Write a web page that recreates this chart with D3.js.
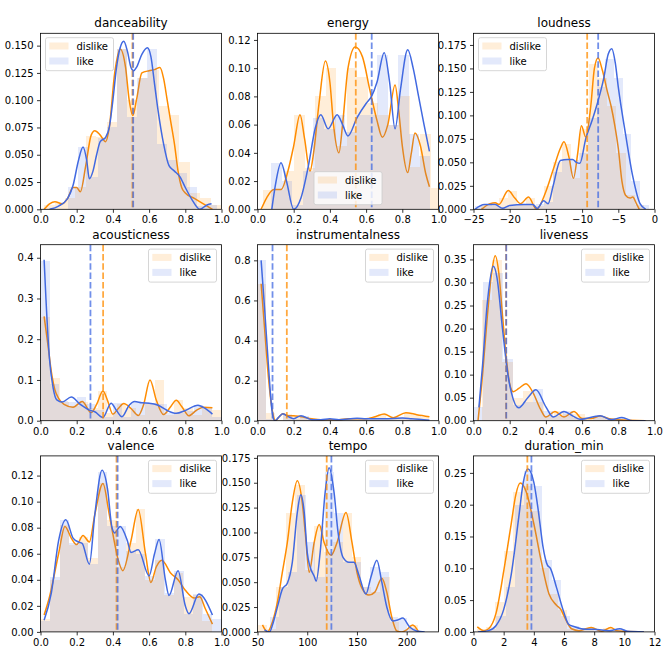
<!DOCTYPE html>
<html><head><meta charset="utf-8">
<script src="https://cdn.jsdelivr.net/npm/d3@7"></script>
<style>body{margin:0;background:#fff} svg{display:block} text{font-family:"DejaVu Sans",sans-serif}</style>
</head><body><svg id="c" width="665" height="665"></svg>
<script>
// ---------- titles ----------
const titles = ["danceability","energy","loudness","acousticness","instrumentalness","liveness","valence","tempo","duration_min"];
const seriesNames = ["dislike","like"];

// ---------- danceability ----------
const danceDislikeKde = [[0.02,0.0],[0.05,0.005],[0.08,0.007],[0.12,0.005],[0.15,0.01],[0.18,0.02],[0.2,0.02],[0.22,0.016],[0.25,0.04],[0.28,0.068],[0.3,0.072],[0.33,0.068],[0.36,0.062],[0.38,0.075],[0.41,0.125],[0.44,0.147],[0.47,0.13],[0.49,0.1],[0.51,0.086],[0.53,0.1],[0.56,0.125],[0.6,0.127],[0.63,0.128],[0.66,0.13],[0.68,0.12],[0.7,0.1],[0.72,0.08],[0.74,0.06],[0.76,0.035],[0.78,0.02],[0.8,0.015],[0.85,0.01],[0.9,0.005],[0.95,0.0]];
const danceLikeKde = [[0.05,0.0],[0.1,0.003],[0.15,0.01],[0.18,0.022],[0.21,0.045],[0.235,0.057],[0.255,0.045],[0.27,0.028],[0.29,0.035],[0.31,0.05],[0.33,0.062],[0.36,0.066],[0.38,0.075],[0.4,0.1],[0.42,0.13],[0.44,0.148],[0.46,0.154],[0.48,0.145],[0.5,0.13],[0.515,0.127],[0.53,0.13],[0.56,0.142],[0.59,0.148],[0.61,0.14],[0.63,0.115],[0.65,0.09],[0.68,0.06],[0.71,0.04],[0.74,0.035],[0.77,0.03],[0.8,0.02],[0.84,0.008],[0.88,0.0],[0.92,0.004],[0.945,0.005]];
const danceDislikeBins = [0.02,0.0575];
const danceDislikeHist = [0.004,0.006,0.01,0.02,0.067,0.066,0.08,0.147,0.1,0.12,0.128,0.095,0.086,0.043,0.015,0.01,0.004];
const danceLikeBins = [0.15,0.055];
const danceLikeHist = [0.02,0.057,0.03,0.065,0.075,0.147,0.085,0.12,0.147,0.06,0.045,0.033,0.02,0.003,0.004];
const danceMeans = [0.508,0.512];

// ---------- energy ----------
const energyDislikeKde = [[0.02,0.0],[0.05,0.008],[0.09,0.014],[0.13,0.014],[0.17,0.028],[0.2,0.045],[0.235,0.067],[0.26,0.05],[0.29,0.027],[0.31,0.04],[0.34,0.075],[0.375,0.105],[0.4,0.09],[0.42,0.06],[0.45,0.04],[0.47,0.06],[0.5,0.1],[0.54,0.115],[0.58,0.108],[0.62,0.085],[0.66,0.063],[0.69,0.051],[0.72,0.06],[0.76,0.088],[0.78,0.07],[0.8,0.045],[0.83,0.026],[0.85,0.04],[0.87,0.054],[0.9,0.045],[0.93,0.025],[0.95,0.016]];
const energyLikeKde = [[0.079,0.0],[0.1,0.018],[0.13,0.033],[0.16,0.02],[0.2,0.0],[0.24,0.008],[0.28,0.03],[0.32,0.058],[0.35,0.067],[0.39,0.057],[0.44,0.067],[0.47,0.06],[0.5,0.052],[0.55,0.065],[0.6,0.075],[0.63,0.08],[0.66,0.09],[0.7,0.111],[0.73,0.09],[0.76,0.057],[0.79,0.085],[0.83,0.113],[0.86,0.1],[0.89,0.08],[0.92,0.06],[0.95,0.041]];
const energyDislikeBins = [0.028,0.058];
const energyDislikeHist = [0.014,0.014,0.027,0.067,0.029,0.08,0.1,0.045,0.1,0.094,0.075,0.067,0.06,0.08,0.03,0.053,0.015];
const energyLikeBins = [0.075,0.0585];
const energyLikeHist = [0.033,0.02,0.003,0.027,0.065,0.057,0.067,0.055,0.067,0.067,0.109,0.06,0.109,0.053,0.038];
const energyMeans = [0.543,0.631];

// ---------- loudness ----------
const loudDislikeKde = [[-23.9,0.0],[-22.7,0.006],[-22,0.007],[-21.5,0.005],[-20.2,0.02],[-19.3,0.012],[-18.5,0.006],[-17.4,0.013],[-16.3,0.0],[-15,0.019],[-14,0.042],[-13,0.065],[-12.5,0.072],[-11.8,0.055],[-11.2,0.033],[-10.6,0.06],[-10.1,0.089],[-9.5,0.077],[-8.8,0.11],[-8.3,0.15],[-7.8,0.161],[-7.2,0.148],[-6.5,0.125],[-6,0.11],[-5.5,0.09],[-5,0.065],[-4.5,0.03],[-4,0.015],[-3.4,0.012],[-3,0.013],[-2.5,0.006],[-2.1,0.0]];
const loudLikeKde = [[-24.8,0.0],[-23.5,0.005],[-22,0.005],[-21,0.001],[-20,0.004],[-18,0.005],[-16.8,0.005],[-16.2,0.001],[-15.3,0.009],[-14.7,0.006],[-14,0.025],[-13,0.052],[-12,0.053],[-11.3,0.053],[-10.8,0.05],[-10.3,0.049],[-9.5,0.075],[-8.6,0.095],[-8,0.11],[-7,0.14],[-6.4,0.165],[-5.9,0.171],[-5.4,0.155],[-5,0.13],[-4,0.08],[-3,0.035],[-2,0.006],[-1.2,0.0]];
const loudDislikeBins = [-24,1.25];
const loudDislikeHist = [0.005,0.007,0.012,0.02,0.006,0.012,0.003,0.025,0.05,0.07,0.033,0.085,0.155,0.14,0.11,0.06,0.015,0.005];
const loudLikeBins = [-24.8,1.2];
const loudLikeHist = [0.004,0.005,0.003,0.002,0.005,0.005,0.005,0.006,0.008,0.04,0.053,0.053,0.06,0.097,0.13,0.16,0.14,0.08,0.03,0.005];
const loudMeans = [-9.3,-7.78];

// ---------- acousticness ----------
const acoustDislikeKde = [[0.02,0.256],[0.04,0.19],[0.06,0.12],[0.08,0.075],[0.1,0.055],[0.13,0.04],[0.18,0.033],[0.23,0.047],[0.28,0.02],[0.31,0.04],[0.345,0.073],[0.37,0.05],[0.4,0.016],[0.43,0.03],[0.46,0.042],[0.5,0.03],[0.54,0.013],[0.57,0.04],[0.605,0.1],[0.64,0.05],[0.68,0.015],[0.72,0.035],[0.75,0.05],[0.78,0.035],[0.82,0.012],[0.86,0.025],[0.9,0.033],[0.95,0.032]];
const acoustLikeKde = [[0.02,0.395],[0.03,0.3],[0.05,0.15],[0.07,0.08],[0.09,0.051],[0.12,0.046],[0.17,0.058],[0.22,0.04],[0.27,0.026],[0.3,0.022],[0.345,0.008],[0.39,0.043],[0.42,0.025],[0.45,0.01],[0.49,0.038],[0.52,0.047],[0.56,0.044],[0.6,0.043],[0.65,0.038],[0.7,0.025],[0.75,0.018],[0.8,0.025],[0.87,0.038],[0.91,0.03],[0.95,0.016]];
const acoustDislikeBins = [0.0,0.0525];
const acoustDislikeHist = [0.255,0.106,0.045,0.035,0.045,0.03,0.072,0.02,0.042,0.03,0.013,0.04,0.1,0.015,0.05,0.03,0.013,0.03,0.027];
const acoustLikeBins = [0.0,0.05];
const acoustLikeHist = [0.393,0.09,0.048,0.045,0.058,0.04,0.026,0.008,0.043,0.01,0.046,0.046,0.043,0.04,0.02,0.018,0.025,0.038,0.03,0.01];
const acoustMeans = [0.346,0.276];

// ---------- instrumentalness ----------
const instrDislikeKde = [[0.02,0.683],[0.04,0.45],[0.06,0.22],[0.08,0.06],[0.1,0.0],[0.12,0.02],[0.14,0.035],[0.17,0.025],[0.2,0.025],[0.24,0.02],[0.3,0.01],[0.35,0.005],[0.45,0.005],[0.5,0.01],[0.6,0.01],[0.65,0.02],[0.7,0.033],[0.75,0.015],[0.82,0.04],[0.88,0.03],[0.95,0.02]];
const instrLikeKde = [[0.02,0.8],[0.04,0.55],[0.06,0.28],[0.08,0.05],[0.095,0.0],[0.115,0.015],[0.14,0.035],[0.17,0.02],[0.2,0.01],[0.24,0.025],[0.3,0.005],[0.35,0.005],[0.4,0.01],[0.45,0.005],[0.55,0.012],[0.6,0.01],[0.7,0.01],[0.8,0.013],[0.85,0.01],[0.95,0.002]];
const instrDislikeBins = [0.0,0.0475];
const instrDislikeHist = [0.68,0.04,0.005,0.035,0.025,0.02,0.01,0.005,0.005,0.005,0.01,0.01,0.01,0.02,0.033,0.015,0.02,0.04,0.03,0.02];
const instrLikeBins = [0.0,0.0475];
const instrLikeHist = [0.8,0.01,0.0,0.03,0.01,0.025,0.005,0.005,0.01,0.005,0.01,0.012,0.01,0.01,0.01,0.01,0.013,0.01,0.005,0.002];
const instrMeans = [0.162,0.083];

// ---------- liveness ----------
const liveDislikeKde = [[0.025,0.0],[0.05,0.1],[0.075,0.22],[0.1,0.32],[0.12,0.358],[0.14,0.32],[0.16,0.23],[0.18,0.14],[0.2,0.08],[0.22,0.063],[0.25,0.07],[0.29,0.08],[0.33,0.06],[0.37,0.025],[0.4,0.008],[0.45,0.02],[0.5,0.008],[0.555,0.02],[0.6,0.005],[0.65,0.005],[0.7,0.01],[0.75,0.004],[0.8,0.002],[0.95,0.0]];
const liveLikeKde = [[0.03,0.029],[0.05,0.12],[0.075,0.25],[0.11,0.335],[0.13,0.31],[0.16,0.2],[0.19,0.1],[0.21,0.06],[0.25,0.028],[0.3,0.05],[0.345,0.067],[0.4,0.03],[0.44,0.008],[0.5,0.02],[0.55,0.01],[0.59,0.003],[0.7,0.011],[0.76,0.002],[0.82,0.007],[0.88,0.0],[0.95,0.0]];
const liveDislikeBins = [0.045,0.057];
const liveDislikeHist = [0.263,0.348,0.127,0.05,0.065,0.04,0.01,0.02,0.015,0.015,0.005,0.01,0.005,0.003,0.001,0.001];
const liveLikeBins = [0.0,0.055];
const liveLikeHist = [0.03,0.3,0.32,0.134,0.035,0.04,0.068,0.02,0.01,0.02,0.005,0.002,0.01,0.005,0.005,0.002,0.0];
const liveMeans = [0.18,0.181];

// ---------- valence ----------
const valDislikeKde = [[0.02,0.013],[0.05,0.027],[0.1,0.06],[0.135,0.081],[0.17,0.072],[0.2,0.067],[0.235,0.074],[0.27,0.069],[0.3,0.09],[0.345,0.114],[0.38,0.09],[0.4,0.075],[0.43,0.055],[0.455,0.047],[0.5,0.07],[0.54,0.094],[0.58,0.06],[0.61,0.038],[0.64,0.05],[0.67,0.055],[0.72,0.045],[0.76,0.04],[0.8,0.032],[0.85,0.026],[0.88,0.027],[0.91,0.018],[0.95,0.006]];
const valLikeKde = [[0.02,0.009],[0.06,0.03],[0.1,0.07],[0.14,0.086],[0.18,0.072],[0.21,0.069],[0.23,0.068],[0.27,0.052],[0.3,0.09],[0.34,0.124],[0.37,0.11],[0.395,0.08],[0.41,0.076],[0.44,0.081],[0.48,0.07],[0.5,0.061],[0.54,0.063],[0.6,0.043],[0.63,0.06],[0.655,0.071],[0.69,0.04],[0.71,0.028],[0.76,0.047],[0.8,0.02],[0.82,0.014],[0.875,0.029],[0.95,0.013]];
const valDislikeBins = [0.0,0.0525];
const valDislikeHist = [0.01,0.04,0.082,0.067,0.073,0.057,0.114,0.086,0.05,0.068,0.094,0.04,0.055,0.028,0.045,0.027,0.028,0.008];
const valLikeBins = [0.0,0.0527];
const valLikeHist = [0.008,0.042,0.086,0.068,0.068,0.052,0.123,0.081,0.081,0.062,0.06,0.043,0.071,0.03,0.047,0.014,0.029,0.014,0.01];
const valMeans = [0.42,0.426];

// ---------- tempo ----------
const tempoDislikeKde = [[55,0.007],[60,0.0],[65,0.01],[70,0.03],[75,0.06],[80,0.09],[85,0.13],[90,0.152],[95,0.13],[98,0.1],[102,0.06],[107,0.09],[112,0.108],[117,0.09],[124,0.077],[130,0.09],[139,0.12],[145,0.09],[150,0.06],[155,0.044],[162,0.037],[168,0.04],[175,0.054],[180,0.04],[185,0.015],[190,0.001],[195,0.0],[200,0.002],[206,0.007],[212,0.0]];
const tempoLikeKde = [[57,0.002],[62,0.0],[66,0.01],[70,0.025],[75,0.043],[80,0.049],[85,0.07],[90,0.12],[93.5,0.138],[97,0.12],[100,0.08],[103,0.065],[107,0.056],[109,0.051],[113,0.08],[118,0.14],[122,0.165],[127,0.14],[131,0.1],[136,0.075],[142,0.07],[147,0.07],[152,0.057],[159,0.038],[164,0.055],[170,0.072],[175,0.05],[180,0.025],[186,0.011],[191,0.012],[196,0.014],[203,0.005],[210,0.001],[218,0.0]];
const tempoDislikeBins = [50,9.5];
const tempoDislikeHist = [0.007,0.003,0.045,0.12,0.148,0.062,0.107,0.08,0.09,0.12,0.075,0.045,0.04,0.055,0.01,0.0,0.007];
const tempoLikeBins = [53,9.2];
const tempoLikeHist = [0.001,0.015,0.045,0.06,0.138,0.09,0.055,0.161,0.12,0.07,0.07,0.045,0.065,0.06,0.015,0.014,0.004,0.001];
const tempoMeans = [119.6,124.3];

// ---------- duration_min ----------
const durDislikeKde = [[0.25,0.008],[0.7,0.002],[1,0.005],[1.5,0.03],[2,0.095],[2.5,0.17],[2.8,0.215],[3.1,0.234],[3.5,0.22],[4,0.17],[4.5,0.11],[5,0.06],[5.5,0.042],[5.8,0.035],[6,0.025],[6.5,0.005],[7,0.002],[7.8,0.007],[8.5,0.001],[9.1,0.007],[9.5,0.002],[10,0.001],[11.3,0.0]];
const durLikeKde = [[0.3,0.0],[1,0.002],[1.5,0.01],[2,0.035],[2.5,0.09],[3,0.18],[3.3,0.235],[3.6,0.256],[4,0.235],[4.3,0.19],[4.6,0.135],[4.9,0.105],[5.1,0.1],[5.5,0.07],[6,0.03],[6.3,0.012],[6.7,0.008],[7.5,0.004],[8,0.004],[9,0.002],[9.7,0.005],[10.2,0.001],[11.3,0.0]];
const durDislikeBins = [0.2,0.6];
const durDislikeHist = [0.004,0.008,0.047,0.127,0.22,0.23,0.19,0.1,0.06,0.035,0.004,0.003,0.006,0.002,0.006,0.002];
const durLikeBins = [0.3,0.61];
const durLikeHist = [0.0,0.005,0.025,0.07,0.2,0.253,0.229,0.113,0.081,0.025,0.01,0.005,0.004,0.002,0.002,0.005,0.001,0.001];
const durMeans = [3.57,3.84];

// ---------- axis domains & ticks ----------
const unitTicks = [0,0.2,0.4,0.6,0.8,1.0];
const xDomains = [[0,1],[0,1],[-25,0],[0,1],[0,1],[0,1],[0,1],[50,232],[0,12]];
const xTicks = [unitTicks,unitTicks,[-25,-20,-15,-10,-5,0],unitTicks,unitTicks,unitTicks,unitTicks,[50,100,150,200],[0,2,4,6,8,10,12]];
const yMax = [0.1613,0.1247,0.1874,0.432,0.878,0.382,0.1351,0.177,0.2767];
const yTicks = [
  [0,0.025,0.05,0.075,0.1,0.125,0.15],
  [0,0.02,0.04,0.06,0.08,0.1,0.12],
  [0,0.025,0.05,0.075,0.1,0.125,0.15,0.175],
  [0,0.1,0.2,0.3,0.4],
  [0,0.2,0.4,0.6,0.8],
  [0,0.05,0.1,0.15,0.2,0.25,0.3,0.35],
  [0,0.02,0.04,0.06,0.08,0.1,0.12],
  [0,0.025,0.05,0.075,0.1,0.125,0.15,0.175],
  [0,0.05,0.1,0.15,0.2,0.25]
];
const yDecimals = [3,2,3,1,1,2,2,3,2];
const legendLoc = ["ul","lc","ul","ur","ur","ur","ur","ur","ur"];

const kdes = [[danceDislikeKde,danceLikeKde],[energyDislikeKde,energyLikeKde],[loudDislikeKde,loudLikeKde],[acoustDislikeKde,acoustLikeKde],[instrDislikeKde,instrLikeKde],[liveDislikeKde,liveLikeKde],[valDislikeKde,valLikeKde],[tempoDislikeKde,tempoLikeKde],[durDislikeKde,durLikeKde]];
const hists = [[danceDislikeHist,danceLikeHist],[energyDislikeHist,energyLikeHist],[loudDislikeHist,loudLikeHist],[acoustDislikeHist,acoustLikeHist],[instrDislikeHist,instrLikeHist],[liveDislikeHist,liveLikeHist],[valDislikeHist,valLikeHist],[tempoDislikeHist,tempoLikeHist],[durDislikeHist,durLikeHist]];
const binsDef = [[danceDislikeBins,danceLikeBins],[energyDislikeBins,energyLikeBins],[loudDislikeBins,loudLikeBins],[acoustDislikeBins,acoustLikeBins],[instrDislikeBins,instrLikeBins],[liveDislikeBins,liveLikeBins],[valDislikeBins,valLikeBins],[tempoDislikeBins,tempoLikeBins],[durDislikeBins,durLikeBins]];
const means = [danceMeans,energyMeans,loudMeans,acoustMeans,instrMeans,liveMeans,valMeans,tempoMeans,durMeans];

// ---------- drawing ----------
const COLORS = ["#ff8c00","#4169e1"];
const BAR_OPACITY = 0.15;
const colLeft = [40.5,257.5,473.5], rowTop = [33.3,244.7,455.9], W = 181, H = 176;
const svg = d3.select("#c");
svg.append("rect").attr("width",665).attr("height",665).attr("fill","#fff");
const defs = svg.append("defs");

function xFmt(i){
  if (i===2) return d => d<0 ? "\u2212"+Math.abs(d) : String(d);
  if (i===7 || i===8) return d3.format("d");
  return d3.format(".1f");
}

titles.forEach((t,i)=>{
  const left = colLeft[i%3], top = rowTop[Math.floor(i/3)];
  const g = svg.append("g").attr("transform",`translate(${left},${top})`);
  const x = d3.scaleLinear().domain(xDomains[i]).range([0,W]);
  const y = d3.scaleLinear().domain([0,yMax[i]]).range([H,0]);
  defs.append("clipPath").attr("id","clip"+i).append("rect").attr("width",W).attr("height",H);
  const plot = g.append("g").attr("clip-path",`url(#clip${i})`);
  const line = d3.line().x(d=>x(d[0])).y(d=>y(d[1])).curve(d3.curveMonotoneX);

  [0,1].forEach(s=>{
    const [start,w] = binsDef[i][s];
    const bars = hists[i][s].map((h,k)=>({x0:start+k*w,x1:start+(k+1)*w,h}));
    plot.append("g").selectAll("rect").data(bars).join("rect")
      .attr("x",d=>x(d.x0)).attr("width",d=>Math.max(0,x(d.x1)-x(d.x0)))
      .attr("y",d=>y(d.h)).attr("height",d=>y(0)-y(d.h))
      .attr("fill",COLORS[s]).attr("fill-opacity",BAR_OPACITY).attr("shape-rendering","crispEdges");
    plot.append("path").datum(kdes[i][s]).attr("d",line)
      .attr("fill","none").attr("stroke",COLORS[s]).attr("stroke-width",1.5);
  });
  [0,1].forEach(s=>{
    plot.append("line").attr("x1",x(means[i][s])).attr("x2",x(means[i][s]))
      .attr("y1",0).attr("y2",H).attr("stroke",COLORS[s]).attr("stroke-width",1.8)
      .attr("stroke-dasharray","6.5,2.8").attr("stroke-opacity",0.75);
  });

  // axes
  const xa = g.append("g").attr("transform",`translate(0,${H})`)
    .call(d3.axisBottom(x).tickValues(xTicks[i]).tickFormat(xFmt(i)).tickSizeInner(3.5).tickSizeOuter(0).tickPadding(3.5));
  const ya = g.append("g")
    .call(d3.axisLeft(y).tickValues(yTicks[i]).tickFormat(d3.format("."+yDecimals[i]+"f")).tickSizeInner(3.5).tickSizeOuter(0).tickPadding(3.5));
  [xa,ya].forEach(a=>{
    a.select(".domain").remove();
    a.selectAll("line").attr("stroke","#000").attr("stroke-width",0.8);
    a.selectAll("text").attr("font-size",10).attr("fill","#000").attr("font-family","DejaVu Sans, sans-serif");
  });
  g.append("rect").attr("width",W).attr("height",H).attr("fill","none").attr("stroke","#000").attr("stroke-width",0.8);

  g.append("text").attr("x",W/2).attr("y",-6).attr("text-anchor","middle")
    .attr("font-size",12).attr("fill","#000").text(t);

  // legend
  const LW = 68, LH = 33;
  let lx, ly;
  if (legendLoc[i]==="ul"){ lx = 5; ly = 4.4; }
  else if (legendLoc[i]==="ur"){ lx = W-5-LW; ly = 4.4; }
  else { lx = (W-LW)/2; ly = H-4.6-LH; }
  const lg = g.append("g").attr("transform",`translate(${lx},${ly})`);
  lg.append("rect").attr("width",LW).attr("height",LH).attr("rx",2)
    .attr("fill","#fff").attr("fill-opacity",0.8).attr("stroke","#ccc").attr("stroke-width",0.8);
  seriesNames.forEach((n,s)=>{
    const cy = 8.3 + s*15;
    lg.append("rect").attr("x",3.8).attr("y",cy-3.5).attr("width",19.2).attr("height",7)
      .attr("fill",COLORS[s]).attr("fill-opacity",BAR_OPACITY);
    lg.append("text").attr("x",31).attr("y",cy).attr("dy","0.36em")
      .attr("font-size",10).attr("fill","#000").text(n);
  });
});
</script></body></html>
